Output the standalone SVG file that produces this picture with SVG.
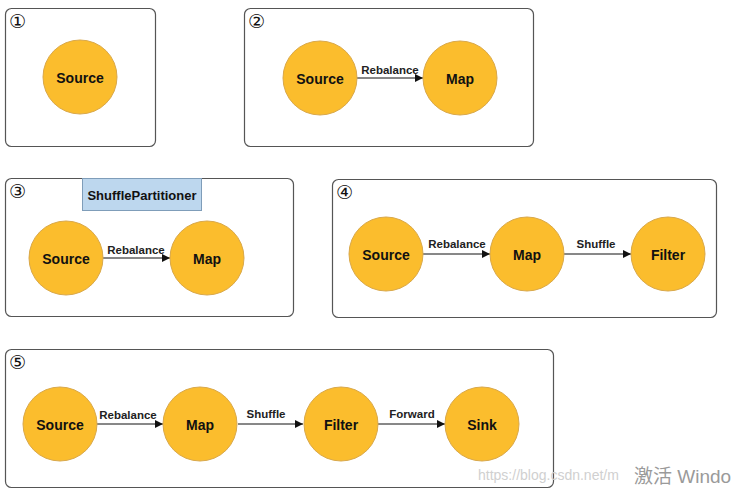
<svg xmlns="http://www.w3.org/2000/svg" width="734" height="493" viewBox="0 0 734 493">
<defs>
<style>
.panel{fill:#fff;stroke:#555;stroke-width:1.2}
.node{fill:#FBBD2D;stroke:#D9A84A;stroke-width:1}
.nl{font-family:"Liberation Sans",Arial,sans-serif;font-weight:bold;font-size:14px;fill:#111;text-anchor:middle;dominant-baseline:central}
.el{font-family:"Liberation Sans",Arial,sans-serif;font-weight:bold;font-size:11.5px;fill:#222;text-anchor:middle}
.num{font-family:"DejaVu Sans","Noto Sans CJK SC",sans-serif;font-size:19px;fill:#111}
.edge{stroke:#111;stroke-width:1;fill:none;marker-end:url(#arr)}
</style>
<marker id="arr" viewBox="0 0 10 10" refX="10" refY="5" markerWidth="8" markerHeight="8" markerUnits="userSpaceOnUse" orient="auto">
<path d="M0,0 L10,5 L0,10 z" fill="#111"/>
</marker>
</defs>
<rect width="734" height="493" fill="#fff"/>

<g id="panel1">
<rect class="panel" x="5.5" y="8.5" width="150" height="138" rx="6"/>
<text class="num" x="9" y="28">①</text>
</g>
<g id="panel2">
<rect class="panel" x="244.5" y="8.5" width="289" height="138" rx="6"/>
<text class="num" x="248" y="28">②</text>
</g>
<g id="panel3">
<rect class="panel" x="5.5" y="178.5" width="288" height="138" rx="6"/>
<text class="num" x="9" y="198">③</text>
</g>
<g id="panel4">
<rect class="panel" x="332.5" y="179.5" width="384" height="138" rx="6"/>
<text class="num" x="336" y="199">④</text>
</g>
<g id="panel5">
<rect class="panel" x="5.5" y="349.5" width="548" height="138" rx="6"/>
<text class="num" x="9" y="369">⑤</text>
</g>

<g id="shufflePartitioner">
<rect x="82.5" y="178.5" width="119" height="32" fill="#BDD7EE" stroke="#7F9DB9" stroke-width="1"/>
<text class="nl" x="142" y="195" style="font-size:13px">ShufflePartitioner</text>
</g>

<g id="connectors">
<line class="edge" x1="357" y1="78" x2="423" y2="78"/>
<text class="el" x="390" y="74">Rebalance</text>
<line class="edge" x1="103" y1="258" x2="170" y2="258"/>
<text class="el" x="136" y="254">Rebalance</text>
<line class="edge" x1="423" y1="254" x2="490" y2="254"/>
<text class="el" x="457" y="248">Rebalance</text>
<line class="edge" x1="564" y1="254" x2="631" y2="254"/>
<text class="el" x="596" y="248">Shuffle</text>
<line class="edge" x1="97" y1="424" x2="163" y2="424"/>
<text class="el" x="128" y="419">Rebalance</text>
<line class="edge" x1="238" y1="424" x2="303" y2="424"/>
<text class="el" x="266" y="418">Shuffle</text>
<line class="edge" x1="378" y1="424" x2="445" y2="424"/>
<text class="el" x="412" y="418">Forward</text>
</g>

<g id="p1-source"><circle class="node" cx="80" cy="77" r="37"/><text class="nl" x="80" y="78">Source</text></g>
<g id="p2-source"><circle class="node" cx="320" cy="78" r="37"/><text class="nl" x="320" y="79">Source</text></g>
<g id="p2-map"><circle class="node" cx="460" cy="78" r="37"/><text class="nl" x="460" y="79">Map</text></g>
<g id="p3-source"><circle class="node" cx="66" cy="258" r="37"/><text class="nl" x="66" y="259">Source</text></g>
<g id="p3-map"><circle class="node" cx="207" cy="258" r="37"/><text class="nl" x="207" y="259">Map</text></g>
<g id="p4-source"><circle class="node" cx="386" cy="254" r="37"/><text class="nl" x="386" y="255">Source</text></g>
<g id="p4-map"><circle class="node" cx="527" cy="254" r="37"/><text class="nl" x="527" y="255">Map</text></g>
<g id="p4-filter"><circle class="node" cx="668" cy="254" r="37"/><text class="nl" x="668" y="255">Filter</text></g>
<g id="p5-source"><circle class="node" cx="60" cy="424" r="37"/><text class="nl" x="60" y="425">Source</text></g>
<g id="p5-map"><circle class="node" cx="200" cy="424" r="37"/><text class="nl" x="200" y="425">Map</text></g>
<g id="p5-filter"><circle class="node" cx="341" cy="424" r="37"/><text class="nl" x="341" y="425">Filter</text></g>
<g id="p5-sink"><circle class="node" cx="482" cy="424" r="37"/><text class="nl" x="482" y="425">Sink</text></g>

<g id="watermark">
<text x="478" y="480" font-family="Liberation Sans,Arial,sans-serif" font-size="14" fill="#d0d0d0">https://blog.csdn.net/m</text>
<text x="634" y="483" font-family="Liberation Sans,'Noto Sans CJK SC',sans-serif" font-size="19" fill="#9a9a9a">激活 Windo</text>
</g>
</svg>
